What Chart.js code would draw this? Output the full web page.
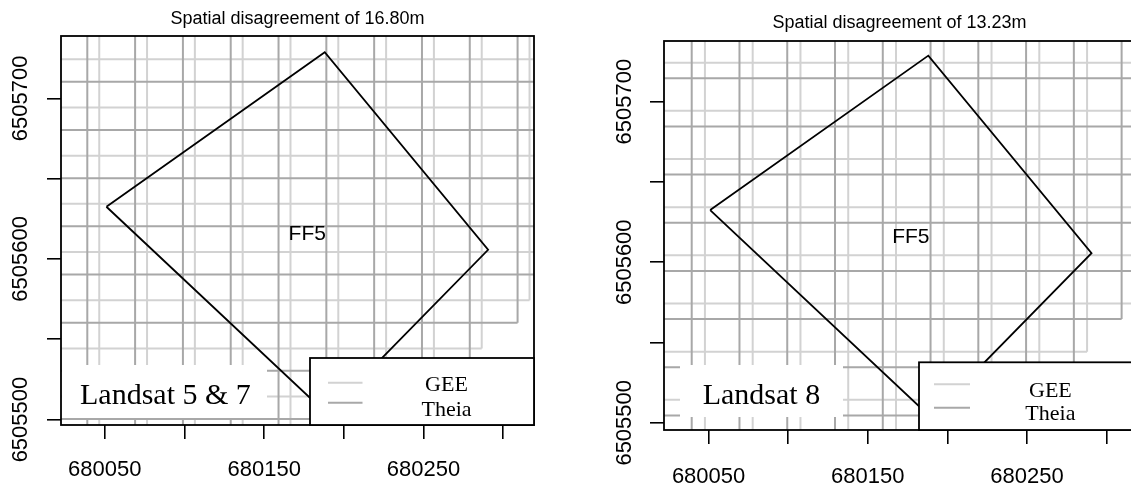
<!DOCTYPE html>
<html>
<head>
<meta charset="utf-8">
<script src="https://cdn.jsdelivr.net/npm/chart.js@4.4.1/dist/chart.umd.min.js"></script>
<style>
  html, body { margin: 0; padding: 0; background: #fff; overflow: hidden; width: 1131px; height: 489px; }
  .panel { position: absolute; top: 0; }
  #wrapA { left: 0; width: 560px; height: 489px; }
  #wrapB { left: 565px; width: 640px; height: 489px; }
</style>
</head>
<body>
<div class="panel" id="wrapA"><canvas id="panelA" width="560" height="489"></canvas></div>
<div class="panel" id="wrapB"><canvas id="panelB" width="640" height="489"></canvas></div>
<script>
// ---- Field FF5 boundary (UTM easting / northing, metres) ----
const fieldName = 'FF5';
const fieldX = [680051, 680188, 680290.5, 680189.5, 680051];
const fieldY = [6505632.5, 6505728.7, 6505605.7, 6505503.5, 6505632.5];
const fieldLabelX = 680177;
const fieldLabelY = 6505615.5;

// ---- Axis ticks ----
const xTicks = [680050, 680100, 680150, 680200, 680250, 680300];
const xTickLabels = ['680050', '', '680150', '', '680250', ''];
const yTicks = [6505500, 6505550, 6505600, 6505650, 6505700];
const yTickLabels = ['6505500', '', '6505600', '', '6505700'];

// ---- Source names ----
const sourceNames = ['GEE', 'Theia'];

// ---- Landsat 5 & 7: 30 m pixel grids ----
const l57Title = 'Spatial disagreement of 16.80m';
const l57Sensor = 'Landsat 5 & 7';
const l57GeeEdges   = [680016.5, 680046.5, 680076.5, 680106.5, 680136.5, 680166.5, 680196.5, 680226.5, 680256.5, 680286.5, 680316.5, 680346.5];
const l57GeeBottoms = [6505454.3, 6505454.3, 6505454.3, 6505454.3, 6505454.3, 6505454.3, 6505484.3, 6505514.3, 6505544.3, 6505574.3, 6505604.3];
const l57GeeRows    = [6505724.3, 6505694.3, 6505664.3, 6505634.3, 6505604.3, 6505574.3, 6505544.3, 6505514.3, 6505484.3];
const l57GeeTop     = 6505754.3;
const l57TheiaEdges   = [680009, 680039, 680069, 680099, 680129, 680159, 680189, 680219, 680249, 680279, 680309, 680339];
const l57TheiaBottoms = [6505440.3, 6505440.3, 6505440.3, 6505440.3, 6505440.3, 6505440.3, 6505470.3, 6505500.3, 6505530.3, 6505560.3, 6505590.3];
const l57TheiaRows    = [6505710.3, 6505680.3, 6505650.3, 6505620.3, 6505590.3, 6505560.3, 6505530.3, 6505500.3, 6505470.3];
const l57TheiaTop     = 6505740.3;

// ---- Landsat 8: 30 m pixel grids ----
const l8Title = 'Spatial disagreement of 13.23m';
const l8Sensor = 'Landsat 8';
const l8GeeEdges   = [680017.7, 680047.7, 680077.7, 680107.7, 680137.7, 680167.7, 680197.7, 680227.7, 680257.7, 680287.7, 680317.7, 680347.7];
const l8GeeBottoms = [6505454.3, 6505454.3, 6505454.3, 6505454.3, 6505454.3, 6505454.3, 6505484.3, 6505514.3, 6505544.3, 6505574.3, 6505604.3];
const l8GeeRows    = [6505724.3, 6505694.3, 6505664.3, 6505634.3, 6505604.3, 6505574.3, 6505544.3, 6505514.3, 6505484.3];
const l8GeeTop     = 6505754.3;
const l8TheiaEdges   = [680009.4, 680039.4, 680069.4, 680099.4, 680129.4, 680159.4, 680189.4, 680219.4, 680249.4, 680279.4, 680309.4, 680339.4];
const l8TheiaBottoms = [6505444.6, 6505444.6, 6505444.6, 6505444.6, 6505444.6, 6505444.6, 6505474.6, 6505504.6, 6505534.6, 6505564.6, 6505594.6];
const l8TheiaRows    = [6505714.6, 6505684.6, 6505654.6, 6505624.6, 6505594.6, 6505564.6, 6505534.6, 6505504.6, 6505474.6];
const l8TheiaTop     = 6505744.6;

// Turn a staircase-shaped block of pixels into line segments (null breaks the line)
function gridSegments(edges, bottoms, rows, top) {
  const pts = [];
  for (let i = 0; i < edges.length; i++) {
    const adj = [];
    if (i > 0) adj.push(bottoms[i - 1]);
    if (i < bottoms.length) adj.push(bottoms[i]);
    const low = Math.min(...adj);
    pts.push({ x: edges[i], y: low }, { x: edges[i], y: top }, { x: null, y: null });
  }
  rows.forEach(r => {
    let end = edges[0];
    for (let c = 0; c < bottoms.length; c++) {
      if (bottoms[c] <= r + 1e-6) end = edges[c + 1]; else break;
    }
    if (end > edges[0]) pts.push({ x: edges[0], y: r }, { x: end, y: r }, { x: null, y: null });
  });
  return pts;
}

function polygonPoints(xs, ys) {
  return xs.map((v, i) => ({ x: v, y: ys[i] }));
}

const SERIF = '"Liberation Serif", "Times New Roman", serif';
const SANS = '"Liberation Sans", Arial, sans-serif';

// Frame, field label, sensor label, legend and rotated northing labels
const panelDecor = {
  id: 'panelDecor',
  afterDatasetsDraw(chart, args, o) {
    const { ctx, chartArea: a, scales: { x, y } } = chart;
    ctx.save();
    // field name
    ctx.fillStyle = '#000';
    ctx.font = '21px ' + SANS;
    ctx.textAlign = 'center';
    ctx.textBaseline = 'middle';
    ctx.fillText(fieldName, x.getPixelForValue(fieldLabelX), y.getPixelForValue(fieldLabelY));
    // plot frame
    ctx.strokeStyle = '#000';
    ctx.lineWidth = 1.8;
    ctx.strokeRect(a.left, a.top, a.right - a.left, a.bottom - a.top);
    // sensor label on white background
    const s = o.sensorBox;
    ctx.fillStyle = '#fff';
    ctx.fillRect(s.left, s.top, s.width, s.height);
    ctx.fillStyle = '#000';
    ctx.font = '30px ' + SERIF;
    ctx.textAlign = 'left';
    ctx.textBaseline = 'alphabetic';
    ctx.fillText(o.sensor, s.textX, s.baseline);
    // legend box
    const L = o.legendBox;
    const lx = a.right - L.fromRight, ly = L.top;
    ctx.fillStyle = '#fff';
    ctx.fillRect(lx, ly, a.right - lx, a.bottom - ly);
    ctx.strokeStyle = '#000';
    ctx.lineWidth = 1.8;
    ctx.strokeRect(lx, ly, a.right - lx, a.bottom - ly);
    ctx.font = '22px ' + SERIF;
    ctx.textAlign = 'center';
    chart.data.datasets.slice(0, 2).forEach((ds, i) => {
      ctx.strokeStyle = ds.borderColor;
      ctx.lineWidth = ds.borderWidth;
      ctx.beginPath();
      ctx.moveTo(lx + L.lineX0, ly + L.lineY[i]);
      ctx.lineTo(lx + L.lineX1, ly + L.lineY[i]);
      ctx.stroke();
      ctx.fillStyle = '#000';
      ctx.fillText(ds.label, lx + L.textX, ly + L.textY[i]);
    });
    // northing labels, rotated like the axis
    ctx.font = '22px ' + SANS;
    ctx.textAlign = 'center';
    ctx.textBaseline = 'middle';
    y.ticks.forEach(t => {
      if (!t.label) return;
      const py = y.getPixelForValue(t.value);
      ctx.save();
      ctx.translate(a.left - o.yLabelOffset, py);
      ctx.rotate(-Math.PI / 2);
      ctx.fillText(t.label, 0, 0);
      ctx.restore();
    });
    ctx.restore();
  }
};

function makePanel(p) {
  return new Chart(document.getElementById(p.canvas), {
    type: 'scatter',
    data: {
      datasets: [
        { label: sourceNames[0], data: gridSegments(p.gee.edges, p.gee.bottoms, p.gee.rows, p.gee.top),
          showLine: true, borderColor: '#d2d2d2', borderWidth: 2, pointRadius: 0, clip: 0, order: 3 },
        { label: sourceNames[1], data: gridSegments(p.theia.edges, p.theia.bottoms, p.theia.rows, p.theia.top),
          showLine: true, borderColor: '#a8a8a8', borderWidth: 2, pointRadius: 0, clip: 0, order: 2 },
        { label: fieldName, data: polygonPoints(fieldX, fieldY),
          showLine: true, borderColor: '#000', borderWidth: 1.8, pointRadius: 0, clip: 0, order: 1 }
      ]
    },
    options: {
      responsive: false,
      animation: false,
      events: [],
      layout: { padding: { left: 0, right: p.padRight, top: 0, bottom: 0 } },
      plugins: {
        legend: { display: false },
        tooltip: { enabled: false },
        title: {
          display: true, fullSize: false, text: p.title, color: '#000',
          font: { family: SANS, size: 18, weight: 'normal', lineHeight: 1.2 },
          padding: { top: p.titlePadTop, bottom: p.titlePadBottom }
        },
        panelDecor: {
          sensor: p.sensor, sensorBox: p.sensorBox, legendBox: p.legendBox, yLabelOffset: p.yLabelOffset
        }
      },
      scales: {
        x: {
          type: 'linear', position: 'bottom', min: p.xMin, max: p.xMax,
          afterBuildTicks: s => { s.ticks = xTicks.map(v => ({ value: v })); },
          afterFit: s => { s.height = p.xAxisHeight; },
          border: { display: false },
          grid: { drawOnChartArea: false, drawTicks: true, tickLength: 14, color: '#000', lineWidth: 1.6 },
          ticks: {
            autoSkip: false, maxRotation: 0, minRotation: 0, padding: p.xLabelPad, color: '#000',
            font: { family: SANS, size: 22 },
            callback: (v, i) => xTickLabels[i]
          }
        },
        y: {
          type: 'linear', position: 'left', min: p.yMin, max: p.yMax,
          afterBuildTicks: s => { s.ticks = yTicks.map(v => ({ value: v })); },
          afterFit: s => { s.width = p.yAxisWidth; },
          border: { display: false },
          grid: { drawOnChartArea: false, drawTicks: true, tickLength: 14, color: '#000', lineWidth: 1.6 },
          ticks: {
            autoSkip: false, padding: 0, color: 'rgba(0,0,0,0)',
            font: { family: SANS, size: 22 },
            callback: (v, i) => yTickLabels[i]
          }
        }
      }
    },
    plugins: [panelDecor]
  });
}

makePanel({
  canvas: 'panelA', title: l57Title, sensor: l57Sensor,
  gee: { edges: l57GeeEdges, bottoms: l57GeeBottoms, rows: l57GeeRows, top: l57GeeTop },
  theia: { edges: l57TheiaEdges, bottoms: l57TheiaBottoms, rows: l57TheiaRows, top: l57TheiaTop },
  xMin: 680022.5, xMax: 680319.3, yMin: 6505496.6, yMax: 6505738.8,
  padRight: 26, yAxisWidth: 61, xAxisHeight: 64, xLabelPad: 18,
  titlePadTop: 8.2, titlePadBottom: 6.2,
  yLabelOffset: 40.5,
  sensorBox: { left: 62, top: 365, width: 205, height: 53, textX: 80, baseline: 403.5 },
  legendBox: { fromRight: 224, top: 358, lineX0: 18, lineX1: 52.5, lineY: [24.7, 44.7], textX: 136.5, textY: [32.7, 57.7] }
});

makePanel({
  canvas: 'panelB', title: l8Title, sensor: l8Sensor,
  gee: { edges: l8GeeEdges, bottoms: l8GeeBottoms, rows: l8GeeRows, top: l8GeeTop },
  theia: { edges: l8TheiaEdges, bottoms: l8TheiaBottoms, rows: l8TheiaRows, top: l8TheiaTop },
  xMin: 680022.0, xMax: 680317.8, yMin: 6505495.5, yMax: 6505737.8,
  padRight: 70, yAxisWidth: 99, xAxisHeight: 59, xLabelPad: 20,
  titlePadTop: 12.2, titlePadBottom: 7.2,
  yLabelOffset: 38.6,
  sensorBox: { left: 115, top: 365, width: 163, height: 52, textX: 137.7, baseline: 404 },
  legendBox: { fromRight: 216, top: 362.3, lineX0: 15, lineX1: 51, lineY: [22, 45.4], textX: 131.4, textY: [34.4, 57.7] }
});
</script>
</body>
</html>
